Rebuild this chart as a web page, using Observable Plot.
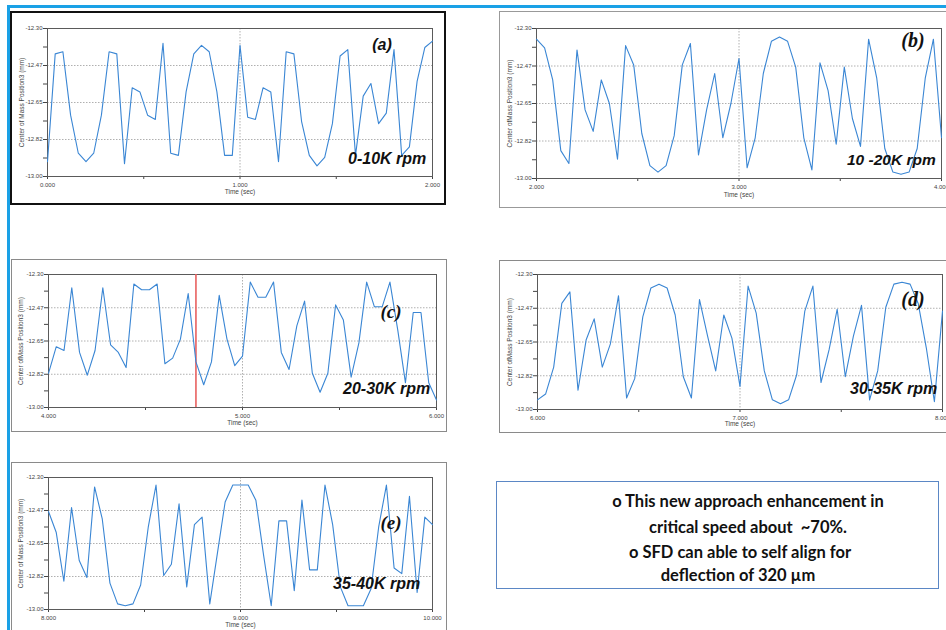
<!DOCTYPE html>
<html><head><meta charset="utf-8">
<script src="https://cdn.jsdelivr.net/npm/d3@7"></script>
<script src="https://cdn.jsdelivr.net/npm/@observablehq/plot@0.6"></script>
<style>
body{margin:0;background:#fff;}
#root{position:relative;width:946px;height:630px;overflow:hidden;background:#fff;font-family:"Liberation Sans",Arial,sans-serif;}
.abs{position:absolute;}
.ann{position:absolute;white-space:nowrap;line-height:1;color:#111;}
.sans{font-family:"Liberation Sans",Arial,sans-serif;font-weight:bold;font-style:italic;font-size:16px;}
.serif{font-family:"Liberation Serif","Times New Roman",serif;font-weight:bold;font-style:italic;font-size:20px;}
.boxline{position:absolute;width:400px;text-align:center;white-space:pre;line-height:1;font-family:Lato,"Liberation Sans",sans-serif;font-weight:bold;font-size:16.5px;color:#111;}
</style></head><body><div id="root"></div>
<script>
// ---- data ----
const yTickValues = [-12.3, -12.475, -12.65, -12.825, -13.0];
const yTickLabels = ["-12.30", "-12.47", "-12.65", "-12.82", "-13.00"];
const yMinorTicks = [-12.3875, -12.5625, -12.7375, -12.9125];
const sampleStep = 0.04; // s between samples

const valuesA = [-12.93,-12.42,-12.41,-12.71,-12.89,-12.93,-12.89,-12.71,-12.41,-12.42,-12.94,-12.58,-12.60,-12.71,-12.73,-12.37,-12.89,-12.90,-12.60,-12.42,-12.38,-12.41,-12.60,-12.90,-12.90,-12.38,-12.72,-12.73,-12.58,-12.60,-12.93,-12.41,-12.42,-12.74,-12.90,-12.95,-12.91,-12.75,-12.43,-12.40,-12.90,-12.62,-12.56,-12.75,-12.70,-12.40,-12.90,-12.86,-12.55,-12.39,-12.36];
const valuesB = [-12.35,-12.39,-12.54,-12.87,-12.93,-12.40,-12.68,-12.78,-12.54,-12.65,-12.91,-12.38,-12.47,-12.79,-12.94,-12.97,-12.94,-12.80,-12.47,-12.37,-12.89,-12.68,-12.51,-12.81,-12.65,-12.44,-12.95,-12.81,-12.51,-12.36,-12.34,-12.36,-12.48,-12.81,-12.96,-12.46,-12.59,-12.84,-12.48,-12.72,-12.85,-12.35,-12.53,-12.86,-12.97,-12.98,-12.97,-12.86,-12.53,-12.35,-12.81];
const valuesC = [-12.82,-12.68,-12.70,-12.37,-12.71,-12.83,-12.70,-12.37,-12.67,-12.71,-12.79,-12.35,-12.38,-12.38,-12.35,-12.77,-12.74,-12.64,-12.40,-12.76,-12.88,-12.76,-12.41,-12.64,-12.78,-12.73,-12.34,-12.42,-12.42,-12.34,-12.71,-12.80,-12.57,-12.44,-12.82,-12.92,-12.82,-12.46,-12.54,-12.84,-12.66,-12.34,-12.47,-12.47,-12.34,-12.59,-12.87,-12.50,-12.50,-12.87,-12.96];
const valuesD = [-12.95,-12.92,-12.78,-12.45,-12.39,-12.90,-12.64,-12.53,-12.78,-12.66,-12.41,-12.94,-12.84,-12.52,-12.37,-12.35,-12.37,-12.51,-12.83,-12.94,-12.43,-12.62,-12.80,-12.51,-12.63,-12.88,-12.36,-12.50,-12.80,-12.95,-12.97,-12.95,-12.82,-12.49,-12.36,-12.86,-12.69,-12.48,-12.83,-12.62,-12.46,-12.95,-12.80,-12.47,-12.35,-12.34,-12.35,-12.45,-12.68,-12.96,-12.49];
const valuesE = [-12.48,-12.59,-12.85,-12.46,-12.74,-12.83,-12.35,-12.52,-12.86,-12.97,-12.98,-12.97,-12.87,-12.56,-12.34,-12.82,-12.76,-12.44,-12.88,-12.55,-12.51,-12.97,-12.70,-12.43,-12.34,-12.34,-12.34,-12.42,-12.71,-12.98,-12.53,-12.53,-12.90,-12.42,-12.79,-12.79,-12.34,-12.55,-12.88,-12.98,-12.98,-12.98,-12.89,-12.56,-12.34,-12.78,-12.81,-12.40,-12.91,-12.51,-12.55];

const startTimes = [0, 2, 4, 6, 8];
const xTicksA = [0, 1, 2],  xLabelsA = ["0.000", "1.000", "2.000"],  xMinorA = [0.5, 1.5];
const xTicksB = [2, 3, 4],  xLabelsB = ["2.000", "3.000", "4.000"],  xMinorB = [2.5, 3.5];
const xTicksC = [4, 5, 6],  xLabelsC = ["4.000", "5.000", "6.000"],  xMinorC = [4.5, 5.5];
const xTicksD = [6, 7, 8],  xLabelsD = ["6.000", "7.000", "8.000"],  xMinorD = [6.5, 7.5];
const xTicksE = [8, 9, 10], xLabelsE = ["8.000", "9.000", "10.000"], xMinorE = [8.5, 9.5];
const cursorTimeC = 4.76;

const yLabelA = "Center of Mass Position3 (mm)";
const yLabelB = "Center ofMass Position3 (mm)";
const xLabelText = "Time (sec)";
const panelTags = ["(a)", "(b)", "(c)", "(d)", "(e)"];
const speedLabels = ["0-10K rpm", "10 -20K rpm", "20-30K rpm", "30-35K rpm", "35-40K rpm"];
const noteLines = ["o This new approach enhancement in", "critical speed about  ~70%.", "o SFD can able to self align for", "deflection of 320 µm"];

// ---- layout ----
const root = document.getElementById("root");
function div(cls, css, text) {
  const d = document.createElement("div");
  d.className = cls;
  Object.assign(d.style, css);
  if (text != null) d.textContent = text;
  root.appendChild(d);
  return d;
}

// blue slide rules
div("abs", {left: "7px", top: "5px", width: "939px", height: "3px", background: "#1aa1e6"});
div("abs", {left: "7px", top: "5px", width: "3px", height: "625px", background: "#1aa1e6"});

// panel frames
div("abs", {left: "10px", top: "11px", width: "432px", height: "190px", border: "2px solid #111"});
div("abs", {left: "499px", top: "11px", width: "460px", height: "195px", border: "1px solid #999"});
div("abs", {left: "11px", top: "259px", width: "434px", height: "171px", border: "1.5px solid #8a8a8a"});
div("abs", {left: "499px", top: "260px", width: "460px", height: "171px", border: "1.5px solid #8a8a8a"});
div("abs", {left: "11px", top: "462px", width: "434px", height: "200px", border: "1.5px solid #8a8a8a"});

function panel(cfg) {
  const {values, t0, xTicks, xLabels, xMinor, ylabel, left, top, width, height, m, yDx, tDy, cursor} = cfg;
  const data = values.map((v, i) => ({t: t0 + i * sampleStep, v}));
  const fx = new Map(xTicks.map((t, i) => [t, xLabels[i]]));
  const fy = new Map(yTickValues.map((t, i) => [t, yTickLabels[i]]));
  const marks = [
    Plot.gridY(yTickValues.slice(1, -1), {stroke: "#b0b0b0", strokeOpacity: 1, strokeDasharray: "1.5,1.5"}),
    Plot.gridX([xTicks[1]], {stroke: "#b0b0b0", strokeOpacity: 1, strokeDasharray: "1.5,1.5"}),
    Plot.axisY([...yTickValues, ...yMinorTicks], {tickSize: 4, tickPadding: 1, tickFormat: d => fy.get(d) ?? "", label: null, stroke: "#444"}),
    Plot.axisX([...xTicks, ...xMinor], {tickSize: 3, tickPadding: 3, tickFormat: d => fx.get(d) ?? "", label: null, stroke: "#444"}),
    Plot.frame({stroke: "#5a5a5a"})
  ];
  if (cursor != null) marks.push(Plot.ruleX([cursor], {stroke: "#e8615f", strokeWidth: 1.6}));
  marks.push(
    Plot.line(data, {x: "t", y: "v", stroke: "#3a86d4", strokeWidth: 1.1}),
    Plot.text([ylabel], {text: d => d, frameAnchor: "left", textAnchor: "middle", rotate: -90, dx: -yDx, fontSize: 6.5, fill: "#444"}),
    Plot.text([xLabelText], {text: d => d, frameAnchor: "bottom", dy: tDy, fontSize: 6.5, fill: "#444"})
  );
  const svg = Plot.plot({
    width, height,
    marginLeft: m[0], marginRight: m[1], marginTop: m[2], marginBottom: m[3],
    x: {domain: [t0, t0 + 2]},
    y: {domain: [-13.0, -12.3]},
    style: {fontFamily: "'Liberation Sans', Arial, sans-serif", fontSize: "6px", color: "#444", background: "transparent"},
    marks
  });
  svg.style.position = "absolute";
  svg.style.left = left + "px";
  svg.style.top = top + "px";
  root.appendChild(svg);
}

panel({values: valuesA, t0: startTimes[0], xTicks: xTicksA, xLabels: xLabelsA, xMinor: xMinorA, ylabel: yLabelA,
  left: 11, top: 13, width: 434, height: 190, m: [36, 13, 15, 27], yDx: 26, tDy: 17});
panel({values: valuesB, t0: startTimes[1], xTicks: xTicksB, xLabels: xLabelsB, xMinor: xMinorB, ylabel: yLabelB,
  left: 500, top: 12, width: 446, height: 195, m: [36, 5, 16, 29], yDx: 27, tDy: 18});
panel({values: valuesC, t0: startTimes[2], xTicks: xTicksC, xLabels: xLabelsC, xMinor: xMinorC, ylabel: yLabelB,
  left: 12, top: 260, width: 434, height: 171, m: [36, 10, 14, 24], yDx: 28, tDy: 17, cursor: cursorTimeC});
panel({values: valuesD, t0: startTimes[3], xTicks: xTicksD, xLabels: xLabelsD, xMinor: xMinorD, ylabel: yLabelB,
  left: 500, top: 261, width: 446, height: 170, m: [37, 4, 13, 22], yDx: 28, tDy: 16});
panel({values: valuesE, t0: startTimes[4], xTicks: xTicksE, xLabels: xLabelsE, xMinor: xMinorE, ylabel: yLabelA,
  left: 12, top: 463, width: 433, height: 167, m: [36, 13, 14, 21], yDx: 28, tDy: 17});

// annotations (baseline ≈ top + 0.85em)
function ann(cls, text, x, baseline, size, anchor) {
  const d = div("ann " + cls, {fontSize: size + "px", top: (baseline - 0.85 * size) + "px"}, text);
  if (anchor === "middle") { d.style.left = (x - 50) + "px"; d.style.width = "100px"; d.style.textAlign = "center"; }
  else d.style.left = x + "px";
}
ann("sans", panelTags[0], 382, 51, 16, "middle");
ann("serif", panelTags[1], 913, 47, 20, "middle");
ann("serif", panelTags[2], 391, 318, 19, "middle");
ann("serif", panelTags[3], 913, 306, 20, "middle");
ann("serif", panelTags[4], 391, 529, 19, "middle");
ann("sans", speedLabels[0], 348, 165, 16);
ann("sans", speedLabels[1], 847, 165, 15.5);
ann("sans", speedLabels[2], 343, 395, 16);
ann("sans", speedLabels[3], 850, 395, 16);
ann("sans", speedLabels[4], 333, 590, 16);

// note box
div("abs", {left: "496px", top: "481px", width: "441px", height: "106px", border: "1.5px solid #5b87c5"});
const noteCenters = [748, 748, 740, 738];
const noteBaselines = [507, 533, 558, 581];
noteLines.forEach((t, i) => {
  div("boxline", {left: (noteCenters[i] - 200) + "px", top: (noteBaselines[i] - 14) + "px"}, t);
});
</script></body></html>
